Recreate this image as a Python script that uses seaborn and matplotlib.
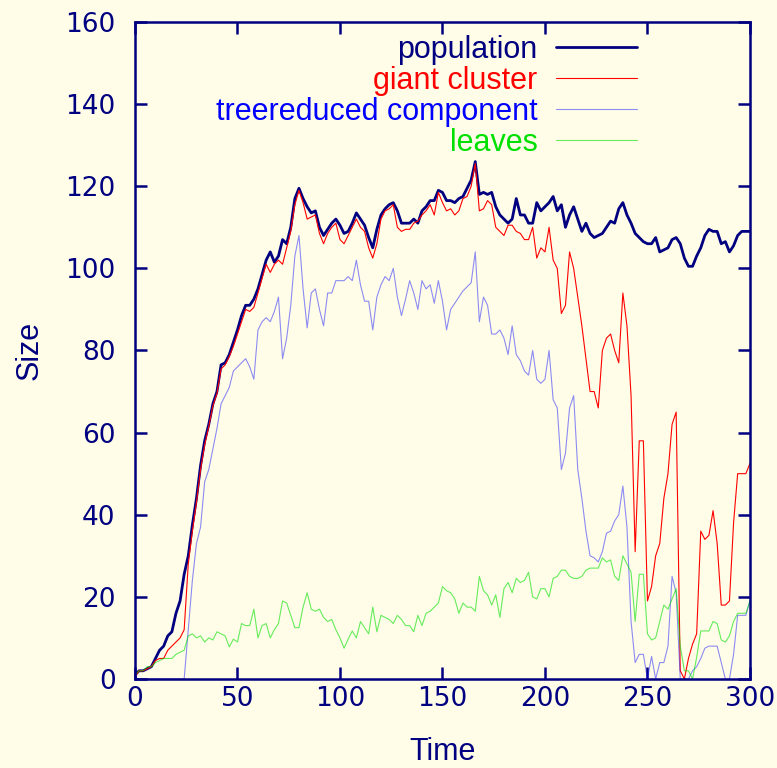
import numpy as np
import matplotlib
matplotlib.use("Agg")
import matplotlib.pyplot as plt
import seaborn as sns

# Time grid (every 2 steps) and values
time = np.arange(0, 301, 2)

population = [
    1, 2, 2, 2.5, 3, 5, 7, 8, 10.5, 11.5, 16, 19, 25.5, 30, 37.5, 44, 52, 58, 62, 67, 70, 76.5, 77, 79, 82,
    85, 88.5, 91, 91, 92.5, 95, 98.5, 102, 104, 101.5, 103, 107, 106, 110, 117, 119.5, 117, 115, 113.5, 114, 110, 108, 109.5, 111, 112,
    110.5, 108.5, 109, 111, 113.5, 112, 110.5, 107.5, 105, 109.5, 113, 114.5, 115.5, 116, 114, 111, 111, 111, 112, 111, 114, 115, 116.5, 116.5, 119,
    118.5, 116.5, 116.5, 116, 117, 117.5, 119.5, 121.5, 126, 118, 118.5, 118, 118.5, 115, 113, 112, 111, 112, 117, 113, 113, 111, 111, 116, 114,
    115, 116, 117.5, 114, 115.5, 110, 113, 115, 112, 109, 111, 108.5, 107.5, 108, 108.5, 110, 111.5, 111, 114.5, 116, 113, 111, 108.5, 107.5, 106.5,
    106, 106, 107.5, 104, 104.5, 105, 107, 107.5, 106, 102.5, 100.5, 100.5, 103, 105, 108, 109.5, 109, 109, 106, 106.5, 104, 105.5, 108, 109, 109, 109,
]

giant_cluster = [
    0.5, 2, 2, 2.5, 3, 4.5, 5, 5, 7, 8, 9, 10, 12, 28, 36, 43, 51, 57, 61.5, 66.5, 69.5, 75.5, 76.5, 78.5, 81,
    84, 87, 90, 89.5, 90.5, 94, 97.5, 101, 99, 101, 102, 101, 105, 109, 115.5, 119, 116, 112, 112.5, 113, 108.5, 106, 108.5, 110, 111,
    107, 106, 108, 110, 112, 110, 109, 105, 102.5, 106, 112, 114, 114.5, 115.5, 110, 109, 109.5, 109.5, 111, 111.5, 113, 114, 115.5, 113, 118.5,
    116, 114, 114.5, 113, 114, 117, 117.5, 120, 125.5, 114, 114.5, 116.5, 115.5, 110, 109, 108, 110.5, 110.5, 109, 108.5, 107, 107, 110, 102.5, 105,
    104, 110, 102, 100, 89, 91, 104, 100, 93, 86, 78, 70, 70, 66, 80, 83, 84, 80, 77, 94, 86, 69, 31, 58, 58,
    19, 22.5, 30, 33, 44, 50, 62, 65, 2, 0, 5, 8.5, 11, 36, 34, 35, 41, 33, 18, 18, 19, 38, 50, 50, 50, 52.5,
]

treereduced = [
    0, 0, 0, 0, 0, 0, 0, 0, 0, 0, 0, 0, 0, 12, 24, 33, 37, 48, 51, 56, 61, 67, 69, 71, 75,
    76, 77, 78, 76, 73, 85, 87, 88, 87, 89.5, 93, 78, 83, 91, 103, 108, 95, 85.5, 94, 95, 90, 86, 94, 94, 97,
    97, 97, 98, 97, 102, 96, 92, 92, 85, 93, 96, 98, 97, 100, 93, 88.5, 92.5, 97, 94, 90, 97, 95, 96, 91.5, 97,
    92, 85, 90, 91.5, 93, 94.5, 95.5, 96.5, 104, 87, 93, 91, 84, 84, 85, 83, 79, 86, 79, 77.5, 75, 74, 80, 73, 72,
    73, 80, 68, 66, 51, 55, 66, 69, 51, 44, 36, 30, 29.5, 28.5, 31, 35.5, 36, 38.5, 40, 47, 37, 14, 4, 6, 6,
    0, 5.5, 0, 4, 4, 8, 25, 21, 0, 0, 0, 2, 3, 5, 7.5, 8, 8, 8, 4, 0, 0, 6, 15.5, 15.5, 15.5, 19,
]

leaves = [
    1, 2, 2, 3, 3, 4, 4.5, 5, 5, 5, 6, 6.5, 7, 10.5, 11, 10, 10.5, 9, 10, 9.5, 11.5, 11, 10.5, 7.8, 9.7,
    9, 13.5, 13, 13, 17, 10, 13, 13.5, 10, 12, 13.5, 19, 18.5, 15.5, 12.5, 12.5, 17.5, 21, 17, 16.5, 17, 15, 14, 14.5, 12,
    10, 7.5, 9.7, 11.7, 10, 14, 12.5, 11, 17.5, 11.5, 15.5, 15, 14.5, 13.5, 15.5, 14.5, 13, 13, 11.5, 15.5, 13, 16, 16.5, 17.5, 18.5,
    22.5, 21.5, 21, 19.5, 16, 18.5, 17.5, 17.5, 16.5, 25, 21.5, 20.5, 18, 20.5, 15, 22, 23.5, 21, 24.5, 23.5, 24, 26, 20, 19.5, 22,
    22, 20, 24.5, 25, 26.5, 26.5, 25, 24.5, 24.5, 25, 26.5, 27, 27, 27, 29.5, 28.5, 29, 25, 24, 30, 28, 26, 14, 25.5, 25.5,
    11, 9.5, 10, 14, 18, 17, 19.5, 22, 8, 2, 2, 0, 5.3, 11.7, 11.7, 11.7, 14, 13.5, 9.5, 9, 10.5, 14, 16, 16, 16, 19,
]

NAVY = "#000080"
BG = "#fffde8"

sns.set_theme(style="ticks")
plt.rcParams["font.family"] = ["DejaVu Sans"]

fig = plt.figure(figsize=(7.77, 7.68), dpi=100, facecolor=BG)
ax = fig.add_axes([0.1737, 0.1159, 0.7915, 0.8555])
ax.set_facecolor(BG)

# name, values, colour, line width, alpha
series = [
    ("population", population, NAVY, 2.0, 1.0),
    ("giant cluster", giant_cluster, "#ff0000", 0.8, 1.0),
    ("treereduced component", treereduced, "#0000ff", 0.8, 0.45),
    ("leaves", leaves, "#00e000", 0.8, 0.6),
]
for name, vals, color, lw, alpha in series:
    sns.lineplot(x=time, y=vals, ax=ax, color=color, lw=lw, alpha=alpha,
                 label=name, estimator=None)

ax.set_xlim(0, 300)
ax.set_ylim(0, 160)
ax.set_xticks(np.arange(0, 301, 50))
ax.set_yticks(np.arange(0, 161, 20))

for side in ax.spines.values():
    side.set_visible(True)
    side.set_color(NAVY)
    side.set_linewidth(1.8)

ax.tick_params(axis="both", direction="in", length=8.5, width=1.8, color=NAVY,
               labelcolor=NAVY, labelsize=19, top=True, right=True)
ax.tick_params(axis="x", pad=5)
ax.tick_params(axis="y", pad=14)

label_font = {"family": "Liberation Sans", "size": 22, "color": NAVY}
ax.set_xlabel("Time", fontdict=label_font, labelpad=18)
ax.set_ylabel("Size", fontdict=label_font, labelpad=15)

leg = ax.legend(loc="upper right", bbox_to_anchor=(0.817, 0.980), frameon=False,
                markerfirst=False, handlelength=2.65, handletextpad=0.62,
                labelspacing=0.03, borderpad=0, borderaxespad=0,
                prop={"family": "Liberation Sans", "size": 22})
for text, line in zip(leg.get_texts(), leg.get_lines()):
    text.set_color(line.get_color())

fig.savefig("out.png", dpi=100, facecolor=BG)
